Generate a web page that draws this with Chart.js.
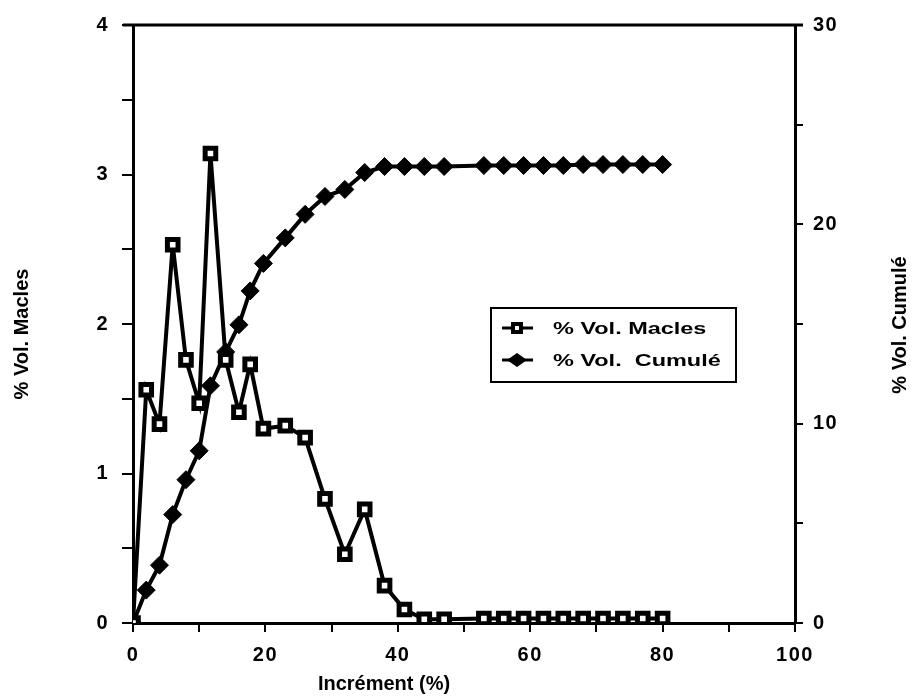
<!DOCTYPE html>
<html>
<head>
<meta charset="utf-8">
<script src="https://cdn.jsdelivr.net/npm/chart.js@4.4.1/dist/chart.umd.min.js"></script>
<style>
  html, body { margin: 0; padding: 0; background: #fff; }
  #wrap { width: 913px; height: 700px; }
</style>
</head>
<body>
<div id="wrap"><canvas id="macleChart" width="913" height="700"></canvas></div>
<script>
// Données
const increment = [0, 2, 4, 6, 8, 10, 11.7, 14, 16, 17.7, 19.7, 23, 26, 29, 32, 35, 38, 41, 44, 47,
                   53, 56, 59, 62, 65, 68, 71, 74, 77, 80];
const volMacles = [0, 1.56, 1.33, 2.53, 1.76, 1.47, 3.14, 1.76, 1.41, 1.73, 1.30, 1.32, 1.24, 0.83, 0.46, 0.76, 0.25, 0.09, 0.025, 0.025,
                   0.03, 0.03, 0.03, 0.03, 0.03, 0.03, 0.03, 0.03, 0.03, 0.03];
const volCumule = [0, 1.65, 2.9, 5.44, 7.19, 8.64, 11.9, 13.6, 14.96, 16.66, 18.04, 19.32, 20.5, 21.4, 21.75, 22.6, 22.9, 22.9, 22.9, 22.9,
                   22.95, 22.95, 22.95, 22.95, 22.95, 23, 23, 23, 23, 23];
const xTicks = [0, 20, 40, 60, 80, 100];
const yLeftTicks = [0, 1, 2, 3, 4];
const yRightTicks = [0, 10, 20, 30];

const FONT = '"Liberation Sans", Arial, Helvetica, sans-serif';
const toPoints = (xs, ys) => xs.map((x, i) => ({ x: x, y: ys[i] }));

// Cadre, titres et légende dessinés à la main
const decorPlugin = {
    id: 'decor',
    beforeDraw(chart) {
        chart.ctx.letterSpacing = '1.5px';
    },
    afterDraw(chart) {
        const ctx = chart.ctx;
        const a = chart.chartArea;
        ctx.save();
        ctx.letterSpacing = '0px';
        ctx.strokeStyle = '#000';
        ctx.lineWidth = 3;
        ctx.beginPath();
        ctx.moveTo(a.left - 10, a.top);
        ctx.lineTo(a.right + 8, a.top);
        ctx.stroke();

        // titres des axes
        ctx.fillStyle = '#000';
        ctx.font = 'bold 20px ' + FONT;
        ctx.textAlign = 'center';
        ctx.textBaseline = 'middle';
        ctx.fillText('Incrément (%)', 384, 684);
        [['% Vol. Macles', 22, 334], ['% Vol. Cumulé', 900, 325]].forEach(([t, x, y]) => {
            ctx.save();
            ctx.translate(x, y);
            ctx.rotate(-Math.PI / 2);
            ctx.fillText(t, 0, 0);
            ctx.restore();
        });

        // légende
        ctx.lineWidth = 2;
        ctx.strokeRect(491, 308, 245, 74);
        const rows = [
            { y: 328, text: '% Vol. Macles', style: 'rect' },
            { y: 360, text: '% Vol.  Cumulé', style: 'rectRot' }
        ];
        rows.forEach(r => {
            ctx.lineWidth = 3;
            ctx.beginPath();
            ctx.moveTo(502, r.y);
            ctx.lineTo(533, r.y);
            ctx.stroke();
            if (r.style === 'rect') {
                ctx.fillStyle = '#000';
                ctx.fillRect(511, r.y - 6, 12, 12);
                ctx.fillStyle = '#fff';
                ctx.fillRect(515, r.y - 2, 4, 4);
            } else {
                ctx.fillStyle = '#000';
                ctx.beginPath();
                ctx.moveTo(507, r.y);
                ctx.lineTo(517, r.y - 7);
                ctx.lineTo(527, r.y);
                ctx.lineTo(517, r.y + 7);
                ctx.closePath();
                ctx.fill();
            }
            ctx.save();
            ctx.fillStyle = '#000';
            ctx.font = 'bold 17px ' + FONT;
            ctx.textAlign = 'left';
            ctx.textBaseline = 'middle';
            ctx.translate(553, r.y + 1);
            ctx.scale(1.38, 1);
            ctx.fillText(r.text, 0, 0);
            ctx.restore();
        });
        ctx.restore();
    }
};

new Chart(document.getElementById('macleChart'), {
    type: 'line',
    data: {
        datasets: [
            {
                label: '% Vol. Cumulé',
                data: toPoints(increment, volCumule),
                yAxisID: 'y2',
                borderColor: '#000',
                borderWidth: 4,
                pointStyle: 'rectRot',
                pointRadius: 9,
                pointBackgroundColor: '#000',
                pointBorderColor: '#000',
                pointBorderWidth: 1,
                tension: 0,
                order: 2
            },
            {
                label: '% Vol. Macles',
                data: toPoints(increment, volMacles),
                yAxisID: 'y',
                borderColor: '#000',
                borderWidth: 4,
                pointStyle: 'rect',
                pointRadius: 7.5,
                pointBackgroundColor: '#fff',
                pointBorderColor: '#000',
                pointBorderWidth: 5,
                tension: 0,
                order: 1
            }
        ]
    },
    options: {
        responsive: false,
        animation: false,
        layout: { padding: { top: 22, left: 0, right: 0, bottom: 0 } },
        plugins: { legend: { display: false }, tooltip: { enabled: false } },
        scales: {
            x: {
                type: 'linear', position: 'bottom', min: 0, max: 100,
                afterFit: s => { s.height = 77; },
                border: { display: true, color: '#000', width: 3 },
                grid: { drawOnChartArea: false, drawTicks: true, tickLength: 9, color: '#000', lineWidth: 2 },
                ticks: {
                    stepSize: 10, color: '#000', padding: 11, maxRotation: 0,
                    font: { family: FONT, size: 20, weight: 'bold' },
                    callback: v => xTicks.includes(v) ? String(v) : ''
                }
            },
            y: {
                type: 'linear', position: 'left', min: 0, max: 4,
                afterFit: s => { s.width = 133; },
                border: { display: true, color: '#000', width: 3 },
                grid: { drawOnChartArea: false, drawTicks: true, tickLength: 11, color: '#000', lineWidth: 2 },
                ticks: {
                    stepSize: 0.5, color: '#000', padding: 13,
                    font: { family: FONT, size: 20, weight: 'bold' },
                    callback: v => yLeftTicks.includes(v) ? String(v) : ''
                }
            },
            y2: {
                type: 'linear', position: 'right', min: 0, max: 30,
                afterFit: s => { s.width = 118; },
                border: { display: true, color: '#000', width: 3 },
                grid: { drawOnChartArea: false, drawTicks: true, tickLength: 8, color: '#000', lineWidth: 2 },
                ticks: {
                    stepSize: 5, color: '#000', padding: 10,
                    font: { family: FONT, size: 20, weight: 'bold' },
                    callback: v => yRightTicks.includes(v) ? String(v) : ''
                }
            }
        }
    },
    plugins: [decorPlugin]
});
</script>
</body>
</html>
